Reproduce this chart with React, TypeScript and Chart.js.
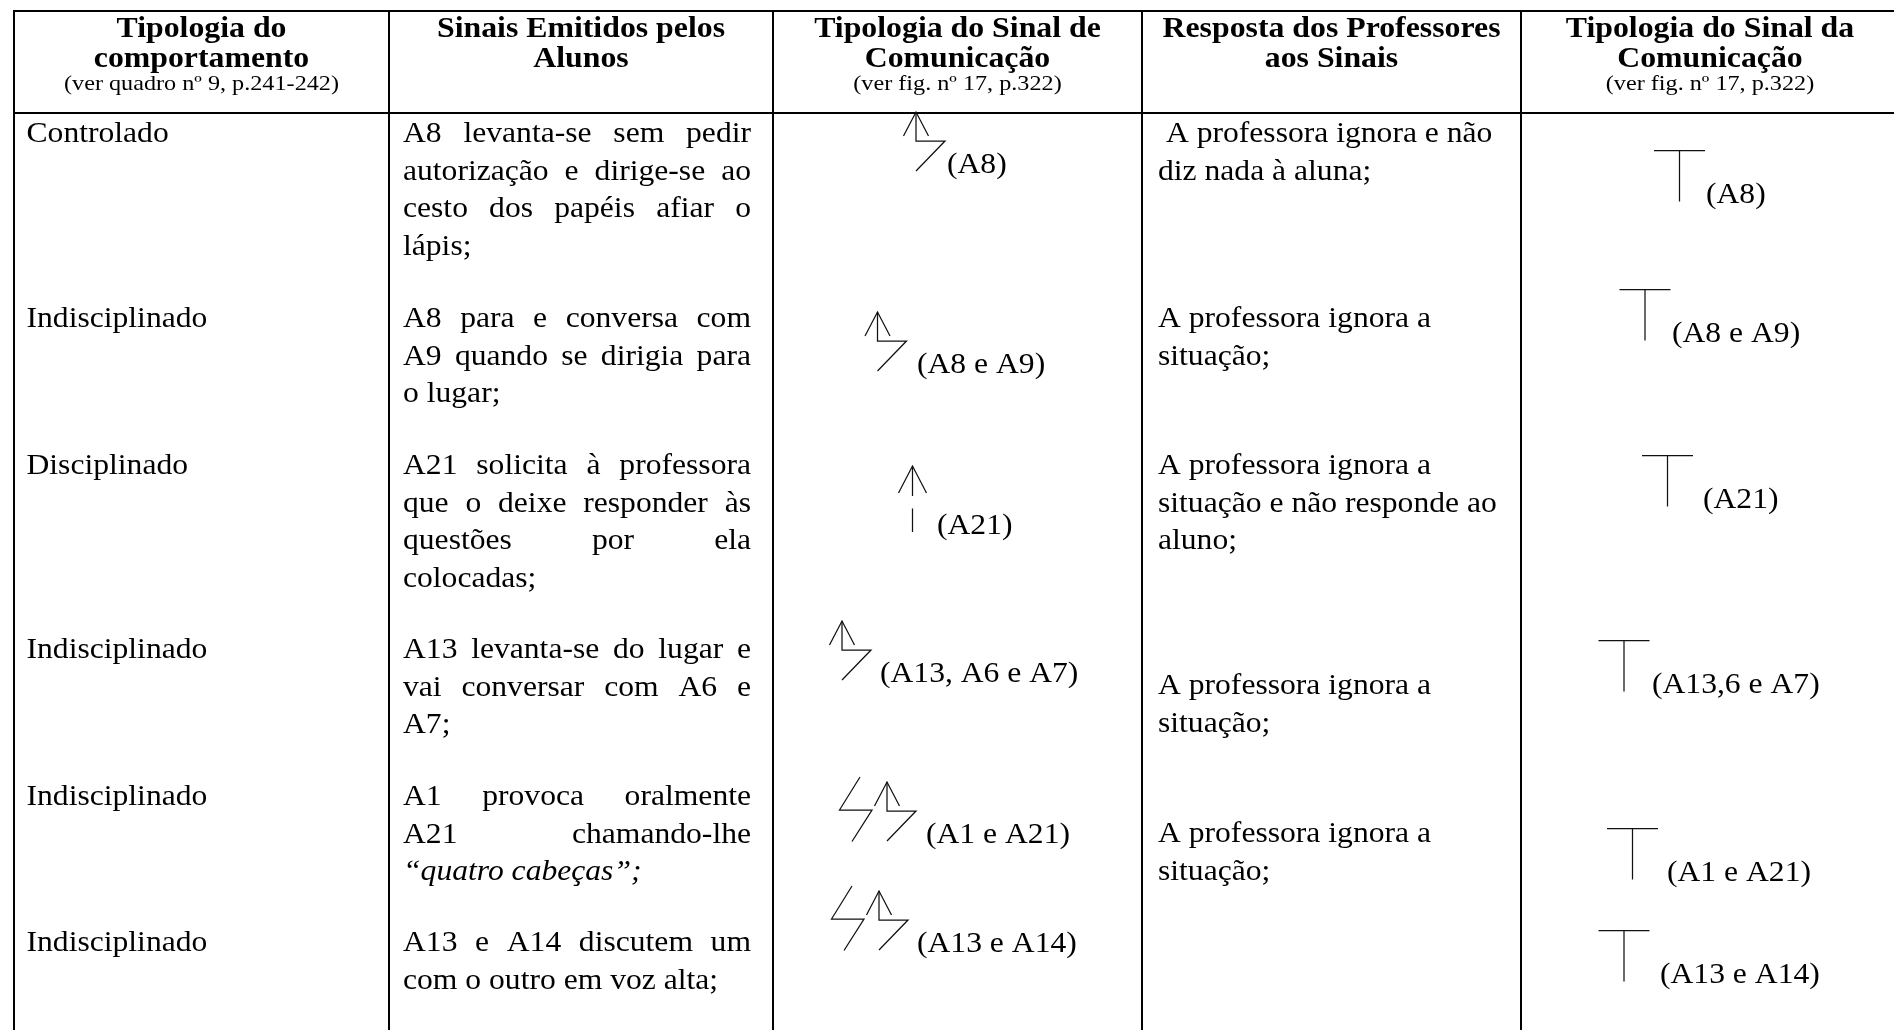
import React, { useEffect, useRef } from "react";
import { Chart, registerables } from "chart.js";

Chart.register(...registerables);

// ---------------- DATA (table content) ----------------
const headerTitles: string[][] = [
  ["Tipologia do", "comportamento"],
  ["Sinais Emitidos pelos", "Alunos"],
  ["Tipologia do Sinal de", "Comunicação"],
  ["Resposta dos Professores", "aos Sinais"],
  ["Tipologia do Sinal da", "Comunicação"],
];
const headerNotes: string[] = [
  "(ver quadro nº 9, p.241-242)",
  "",
  "(ver fig. nº 17, p.322)",
  "",
  "(ver fig. nº 17, p.322)",
];
const behaviourTypes: string[] = [
  "Controlado",
  "Indisciplinado",
  "Disciplinado",
  "Indisciplinado",
  "Indisciplinado",
  "Indisciplinado",
];
const studentSignals: string[][] = [
  ["A8 levanta-se sem pedir", "autorização e dirige-se ao", "cesto dos papéis afiar o", "lápis;"],
  ["A8 para e conversa com", "A9 quando se dirigia para", "o lugar;"],
  ["A21 solicita à professora", "que o deixe responder às", "questões por ela", "colocadas;"],
  ["A13 levanta-se do lugar e", "vai conversar com A6 e", "A7;"],
  ["A1 provoca oralmente", "A21 chamando-lhe", "“quatro cabeças”;"],
  ["A13 e A14 discutem um", "com o outro em voz alta;"],
];
const italicLines: string[] = ["“quatro cabeças”;"];
const studentSignalShapes: string[] = ["arrowZ", "arrowZ", "arrowGap", "arrowZ", "zArrowZ", "zArrowZ"];
const studentSignalLabels: string[] = ["(A8)", "(A8 e A9)", "(A21)", "(A13, A6 e A7)", "(A1 e A21)", "(A13 e A14)"];
const teacherResponses: string[][] = [
  [" A professora ignora e não", "diz nada à aluna;"],
  ["A professora ignora a", "situação;"],
  ["A professora ignora a", "situação e não responde ao", "aluno;"],
  ["A professora ignora a", "situação;"],
  ["A professora ignora a", "situação;"],
  [],
];
const teacherSignalShapes: string[] = ["T", "T", "T", "T", "T", "T"];
const teacherSignalLabels: string[] = ["(A8)", "(A8 e A9)", "(A21)", "(A13,6 e A7)", "(A1 e A21)", "(A13 e A14)"];

// ---------------- LAYOUT (positions in page pixels) ----------------
const W = 1894;
const H = 1030;
const AREA_LEFT = 13;
const AREA_TOP = 10;
const COL_EDGES = [14, 389, 773, 1142, 1521];
const LAST_COL_RIGHT = 1899;
const H_LINES = [11, 113];
const HEADER_BASELINES = [37, 67];
const HEADER_NOTE_BASELINE = 90;
const ROW_BASELINES = [142, 327, 474, 658, 805, 951];
const RESPONSE_BASELINES = [142, 327, 474, 694, 842, 0];
const LINE_STEP = 37.5;
const COL1_TEXT_X = 26.5;
const COL2_TEXT_LEFT = 403;
const COL2_TEXT_RIGHT = 751;
const COL4_TEXT_X = 1158;
const SIGNAL_LABEL_X = [947, 917, 937, 880, 926, 917];
const SIGNAL_BASELINES = [173, 373, 534, 682, 843, 952];
const SIGNAL_STEM_X = [916, 877.5, 912.5, 842, 887, 879];
const TEACHER_LABEL_X = [1706, 1672, 1703, 1652, 1667, 1660];
const TEACHER_BASELINES = [203, 342, 508, 693, 881, 983];
const TEACHER_STEM_X = [1679.5, 1645, 1667.5, 1624, 1632.5, 1624];

// ---------------- STYLE ----------------
const FAMILY = "'Liberation Serif', 'Times New Roman', serif";
const BODY_FONT = `29px ${FAMILY}`;
const BODY_ITALIC = `italic 29px ${FAMILY}`;
const HEAD_FONT = `bold 30px ${FAMILY}`;
const NOTE_FONT = `22px ${FAMILY}`;
const BODY_SX = 1.09;
const HEAD_SX = 1.06;
const NOTE_SX = 1.1;

function drawText(
  ctx: CanvasRenderingContext2D,
  s: string,
  x: number,
  y: number,
  font: string,
  sx: number,
  align: "left" | "center" = "left"
) {
  ctx.save();
  ctx.font = font;
  const w = ctx.measureText(s).width * sx;
  const x0 = align === "center" ? x - w / 2 : x;
  ctx.translate(x0, y);
  ctx.scale(sx, 1);
  ctx.textAlign = "left";
  ctx.textBaseline = "alphabetic";
  ctx.fillStyle = "#000";
  ctx.fillText(s, 0, 0);
  ctx.restore();
  return w;
}

function drawJustified(
  ctx: CanvasRenderingContext2D,
  s: string,
  x0: number,
  x1: number,
  y: number,
  font: string,
  sx: number
) {
  const words = s.split(" ").filter((w) => w.length > 0);
  ctx.save();
  ctx.font = font;
  const widths = words.map((w) => ctx.measureText(w).width * sx);
  ctx.restore();
  if (words.length < 2) {
    drawText(ctx, s, x0, y, font, sx);
    return;
  }
  const total = widths.reduce((a, b) => a + b, 0);
  const gap = (x1 - x0 - total) / (words.length - 1);
  let x = x0;
  words.forEach((w, i) => {
    drawText(ctx, w, x, y, font, sx);
    x += widths[i] + gap;
  });
}

function path(ctx: CanvasRenderingContext2D, pts: number[][]) {
  ctx.beginPath();
  ctx.moveTo(pts[0][0], pts[0][1]);
  for (let i = 1; i < pts.length; i++) ctx.lineTo(pts[i][0], pts[i][1]);
  ctx.stroke();
}

function drawArrowZ(ctx: CanvasRenderingContext2D, sx: number, bottom: number) {
  const top = bottom - 59;
  path(ctx, [[sx - 12.5, top + 24], [sx, top], [sx + 12.5, top + 24]]);
  path(ctx, [[sx, top], [sx, top + 29], [sx + 29, top + 29], [sx, bottom]]);
}

function drawZ(ctx: CanvasRenderingContext2D, sx: number, bottom: number) {
  const tip = bottom - 59;
  path(ctx, [[sx - 27, tip - 5], [sx - 47.5, tip + 28], [sx - 15, tip + 28], [sx - 35, tip + 59.5]]);
}

function drawArrowGap(ctx: CanvasRenderingContext2D, sx: number, bottom: number) {
  const top = bottom - 66;
  path(ctx, [[sx - 14, top + 27], [sx, top], [sx + 14, top + 27]]);
  path(ctx, [[sx, top], [sx, top + 30]]);
  path(ctx, [[sx, top + 42.5], [sx, bottom]]);
}

function drawT(ctx: CanvasRenderingContext2D, sx: number, bottom: number) {
  const top = bottom - 51;
  path(ctx, [[sx - 25.5, top], [sx + 25.5, top]]);
  path(ctx, [[sx, top], [sx, bottom]]);
}

const tablePlugin = {
  id: "tableContent",
  afterDraw(chart: any) {
    const ctx: CanvasRenderingContext2D = chart.ctx;
    const xs = chart.scales.x;
    const ys = chart.scales.y;
    const px = (v: number) => xs.getPixelForValue(v);
    const py = (v: number) => ys.getPixelForValue(v);
    const edges = [...COL_EDGES, LAST_COL_RIGHT];

    // header
    headerTitles.forEach((lines, i) => {
      const cx = px((edges[i] + edges[i + 1]) / 2);
      lines.forEach((t, j) => drawText(ctx, t, cx, py(HEADER_BASELINES[j]), HEAD_FONT, HEAD_SX, "center"));
      if (headerNotes[i]) drawText(ctx, headerNotes[i], cx, py(HEADER_NOTE_BASELINE), NOTE_FONT, NOTE_SX, "center");
    });

    // column 1: behaviour type
    behaviourTypes.forEach((t, r) => drawText(ctx, t, px(COL1_TEXT_X), py(ROW_BASELINES[r]), BODY_FONT, BODY_SX));

    // column 2: justified paragraphs
    studentSignals.forEach((lines, r) => {
      lines.forEach((t, j) => {
        const y = py(ROW_BASELINES[r] + j * LINE_STEP);
        const italic = italicLines.includes(t);
        const font = italic ? BODY_ITALIC : BODY_FONT;
        if (j < lines.length - 1) drawJustified(ctx, t, px(COL2_TEXT_LEFT), px(COL2_TEXT_RIGHT), y, font, BODY_SX);
        else drawText(ctx, t, px(COL2_TEXT_LEFT), y, font, BODY_SX);
      });
    });

    // column 4: teacher responses
    teacherResponses.forEach((lines, r) => {
      lines.forEach((t, j) =>
        drawText(ctx, t, px(COL4_TEXT_X), py(RESPONSE_BASELINES[r] + j * LINE_STEP), BODY_FONT, BODY_SX)
      );
    });

    ctx.save();
    ctx.strokeStyle = "#111";
    ctx.lineWidth = 1.25;
    ctx.lineCap = "butt";
    ctx.lineJoin = "miter";

    // column 3: student signal symbols
    studentSignalShapes.forEach((shape, r) => {
      const stem = px(SIGNAL_STEM_X[r]);
      const bottom = py(SIGNAL_BASELINES[r] - 2);
      if (shape === "arrowZ") drawArrowZ(ctx, stem, bottom);
      else if (shape === "arrowGap") drawArrowGap(ctx, stem, bottom);
      else if (shape === "zArrowZ") {
        drawZ(ctx, stem, bottom);
        drawArrowZ(ctx, stem, bottom);
      }
    });

    // column 5: teacher signal symbols
    teacherSignalShapes.forEach((shape, r) => {
      if (shape === "T") drawT(ctx, px(TEACHER_STEM_X[r]), py(TEACHER_BASELINES[r] - 1.5));
    });
    ctx.restore();

    studentSignalLabels.forEach((t, r) =>
      drawText(ctx, t, px(SIGNAL_LABEL_X[r]), py(SIGNAL_BASELINES[r]), BODY_FONT, BODY_SX)
    );
    teacherSignalLabels.forEach((t, r) =>
      drawText(ctx, t, px(TEACHER_LABEL_X[r]), py(TEACHER_BASELINES[r]), BODY_FONT, BODY_SX)
    );
  },
};

export default function App() {
  const canvasRef = useRef<HTMLCanvasElement | null>(null);

  useEffect(() => {
    const canvas = canvasRef.current;
    if (!canvas) return;
    const chart = new Chart(canvas, {
      type: "scatter",
      data: { datasets: [] },
      options: {
        responsive: false,
        animation: false,
        devicePixelRatio: 1,
        layout: { padding: { left: AREA_LEFT, top: AREA_TOP, right: 0, bottom: 0 } },
        plugins: { legend: { display: false }, tooltip: { enabled: false }, title: { display: false } },
        events: [],
        scales: {
          x: {
            type: "linear",
            position: "bottom",
            min: AREA_LEFT,
            max: W,
            ticks: { display: false },
            border: { display: false },
            grid: { drawTicks: false, color: "#000", lineWidth: 2 },
            afterBuildTicks: (s: any) => {
              s.ticks = COL_EDGES.map((v) => ({ value: v }));
            },
          },
          y: {
            type: "linear",
            position: "left",
            reverse: true,
            min: AREA_TOP,
            max: H,
            ticks: { display: false },
            border: { display: false },
            grid: { drawTicks: false, color: "#000", lineWidth: 2 },
            afterBuildTicks: (s: any) => {
              s.ticks = H_LINES.map((v) => ({ value: v }));
            },
          },
        },
      } as any,
      plugins: [tablePlugin],
    });
    return () => chart.destroy();
  }, []);

  return (
    <div style={{ position: "fixed", left: 0, top: 0, width: W, height: H, background: "#fff" }}>
      <canvas ref={canvasRef} width={W} height={H} style={{ width: W, height: H, display: "block" }} />
    </div>
  );
}
